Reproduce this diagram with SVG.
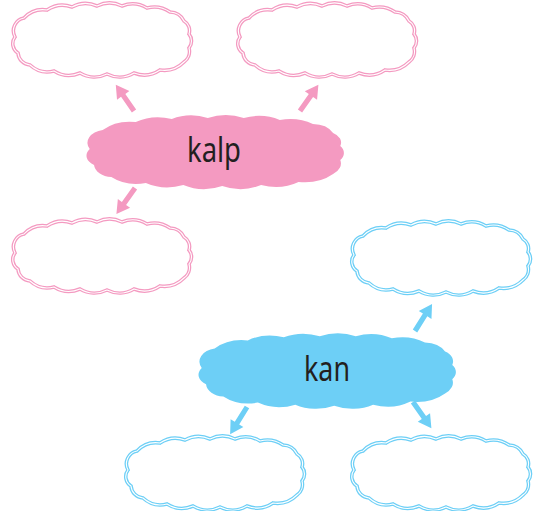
<svg xmlns="http://www.w3.org/2000/svg" xmlns:xlink="http://www.w3.org/1999/xlink" width="538" height="511" viewBox="0 0 538 511">
<style>
.po{fill:#fff;stroke:#f49ac1;stroke-width:3.6}
.pi{fill:none;stroke:#fff;stroke-width:1.1}
.bo{fill:#fff;stroke:#6dcff6;stroke-width:3.6}
.bi{fill:none;stroke:#fff;stroke-width:1.1}
.pf{fill:#f49ac1}
.bf{fill:#6dcff6}
.lbl{font-family:"Noto Sans","DejaVu Sans",sans-serif;font-size:35px;fill:#231f20;text-anchor:middle}
</style>
<defs>
<path id="cloud" d="M-78,-22 A26,26 0 0 1 -55,-30 A28,28 0 0 1 -30,-33 A28,28 0 0 1 -5,-34 A28,28 0 0 1 20,-34 A28,28 0 0 1 45,-32 A28,28 0 0 1 68,-28 A16,16 0 0 1 82,-19 A11,11 0 0 1 87,-6 A11,11 0 0 1 87,8 A13,13 0 0 1 82,22 A28,28 0 0 1 58,30 A28,28 0 0 1 32,33 A28,28 0 0 1 5,34 A28,28 0 0 1 -22,33 A28,28 0 0 1 -48,31 A26,26 0 0 1 -72,25 A13,13 0 0 1 -84,13 A11,11 0 0 1 -87,-3 A13,13 0 0 1 -78,-22 Z"/>
<polygon id="arr" points="0,-2.6 19,-2.6 19,-7.5 32,0 19,7.5 19,2.6 0,2.6"/>
</defs>
<g id="connectors">
<use xlink:href="#arr" class="pf" transform="translate(134,111) rotate(-124.7)"/>
<use xlink:href="#arr" class="pf" transform="translate(300,111) rotate(-54.9)"/>
<use xlink:href="#arr" class="pf" transform="translate(135,188) rotate(125.5)"/>
<use xlink:href="#arr" class="bf" transform="translate(415,331) rotate(-57.8)"/>
<use xlink:href="#arr" class="bf" transform="translate(247,407) rotate(121.8)"/>
<use xlink:href="#arr" class="bf" transform="translate(413,402) rotate(54.9)"/>
</g>
<g id="p1" transform="translate(102,40)"><use xlink:href="#cloud" class="po"/><use xlink:href="#cloud" class="pi"/></g>
<g id="p2" transform="translate(327,40)"><use xlink:href="#cloud" class="po"/><use xlink:href="#cloud" class="pi"/></g>
<g id="p3" transform="translate(102,256)"><use xlink:href="#cloud" class="po"/><use xlink:href="#cloud" class="pi"/></g>
<g id="b1" transform="translate(441,258)"><use xlink:href="#cloud" class="bo"/><use xlink:href="#cloud" class="bi"/></g>
<g id="b2" transform="translate(215,473)"><use xlink:href="#cloud" class="bo"/><use xlink:href="#cloud" class="bi"/></g>
<g id="b3" transform="translate(441,473)"><use xlink:href="#cloud" class="bo"/><use xlink:href="#cloud" class="bi"/></g>
<g id="kalp">
<use xlink:href="#cloud" class="pf" transform="translate(215,152) scale(1.44,1.0)"/>
<text x="214" y="162" class="lbl" textLength="54" lengthAdjust="spacingAndGlyphs">kalp</text>
</g>
<g id="kan">
<use xlink:href="#cloud" class="bf" transform="translate(327,371) scale(1.44,1.02)"/>
<text x="327" y="381" class="lbl" textLength="46" lengthAdjust="spacingAndGlyphs">kan</text>
</g>
</svg>
